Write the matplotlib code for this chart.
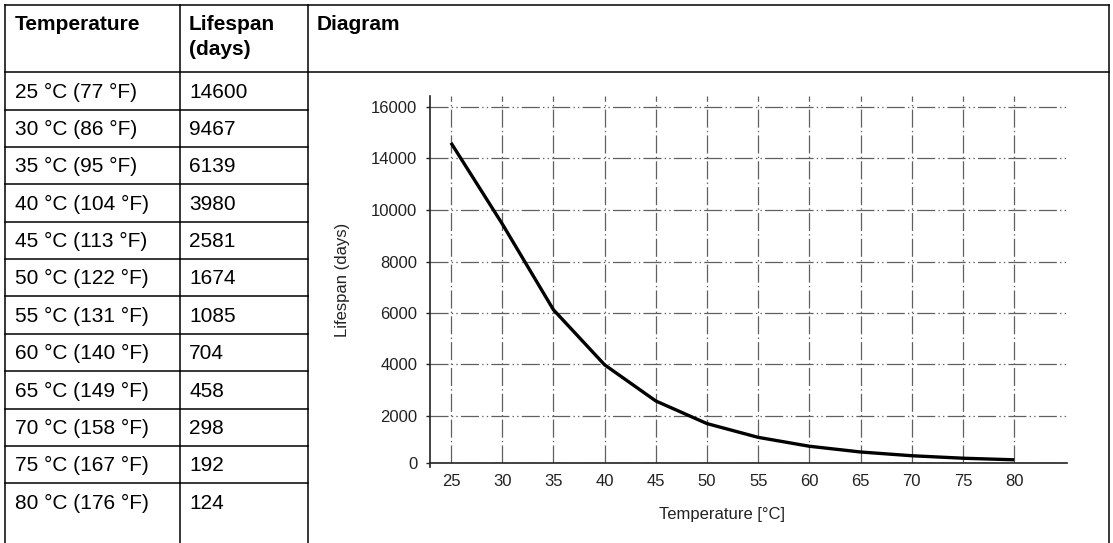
import matplotlib
matplotlib.use("Agg")
import matplotlib.pyplot as plt
import numpy as np

plt.rcParams['font.family'] = ['Liberation Sans', 'DejaVu Sans']
plt.rcParams['lines.scale_dashes'] = False

# table / curve data
temps_c = [25, 30, 35, 40, 45, 50, 55, 60, 65, 70, 75, 80]
temps_f = [77, 86, 95, 104, 113, 122, 131, 140, 149, 158, 167, 176]
lifespan = [14600, 9467, 6139, 3980, 2581, 1674, 1085, 704, 458, 298, 192, 124]

y_ticks = [0, 2000, 4000, 6000, 8000, 10000, 14000, 16000]
x_ticks = [25, 30, 35, 40, 45, 50, 55, 60, 65, 70, 75, 80]
headers = [["Temperature"], ["Lifespan", "(days)"], ["Diagram"]]

# the source diagram has an uneven value axis: breakpoints of that scale
scale_vals = [-2000, 0, 2000, 4000, 6000, 8000, 10000, 14000, 16000, 18000]
scale_pos = [-46.7, 0, 46.7, 98.4, 149.4, 201.0, 252.7, 304.4, 356.0, 407.6]


def fwd(v):
    return np.interp(v, scale_vals, scale_pos)


def inv(p):
    return np.interp(p, scale_pos, scale_vals)


W, H = 1113, 543
fig = plt.figure(figsize=(W / 100, H / 100), dpi=100)

# table drawn in pixel coordinates
tab = fig.add_axes([0, 0, 1, 1])
tab.set_xlim(0, W)
tab.set_ylim(H, 0)
tab.axis('off')

x_left, x_c1, x_c2, x_right = 5, 180, 308, 1108.5
y_top, y_head = 5.3, 72.3
row_h = 37.36
lw_tab = 1.1

tab.plot([x_left, x_right], [y_top, y_top], color='black', lw=lw_tab)
tab.plot([x_left, x_right], [y_head, y_head], color='black', lw=lw_tab)
for x in [x_left, x_c1, x_c2, x_right]:
    tab.plot([x, x], [y_top, H + 5], color='black', lw=lw_tab)
for k in range(1, len(temps_c)):
    y = y_head + row_h * k
    tab.plot([x_left, x_c2], [y, y], color='black', lw=lw_tab)

fs = 15
for x, lines in zip([15, 189, 317], headers):
    for j, h in enumerate(lines):
        tab.text(x, 30 + 25 * j, h, fontsize=fs, fontweight='bold',
                 va='baseline', ha='left', color='black')
for i, (c, f, d) in enumerate(zip(temps_c, temps_f, lifespan)):
    yb = y_head + row_h * i + 25.4
    tab.text(15, yb, f"{c} °C ({f} °F)", fontsize=fs, va='baseline', color='black')
    tab.text(189, yb, str(d), fontsize=fs, va='baseline', color='black')

# diagram
ax_l, ax_r, ax_t, ax_b = 430, 1066.7, 96, 462.7
ax = fig.add_axes([ax_l / W, 1 - ax_b / H, (ax_r - ax_l) / W, (ax_b - ax_t) / H])
ax.set_facecolor('none')
ax.set_yscale('function', functions=(fwd, inv))

ax.plot(temps_c, lifespan, color='black', lw=2.4, solid_joinstyle='round',
        solid_capstyle='butt', zorder=3)

ax.set_xlim(22.95, 85.12)
ax.set_ylim(0, 16415)
ax.set_xticks(x_ticks)
ax.set_yticks(y_ticks)
ax.set_yticklabels([str(v) for v in y_ticks])

ax.grid(axis='x', color='#606060', lw=0.9, linestyle=(0, (13, 2.3, 1.0, 2.3)))
ax.grid(axis='y', color='#606060', lw=0.9,
        linestyle=(0, (13, 2.3, 1.0, 2.3, 1.0, 2.3)))
ax.set_axisbelow(True)

for s in ['top', 'right']:
    ax.spines[s].set_visible(False)
for s in ['left', 'bottom']:
    ax.spines[s].set_color('#222222')
    ax.spines[s].set_linewidth(1.2)
ax.spines['left'].set_bounds(-170, 16415)

ax.tick_params(axis='x', length=0, pad=8, labelsize=12, labelcolor='#222222')
ax.tick_params(axis='y', length=3.1, width=1.0, direction='out', pad=6,
               labelsize=12, labelcolor='#222222', color='#222222')

fig.text(721.7 / W, 1 - 515 / H, "Temperature [°C]", fontsize=12,
         ha='center', va='center', color='#222222')
fig.text(343 / W, 1 - 279.4 / H, "Lifespan (days)", fontsize=12, rotation=90,
         ha='center', va='center', color='#222222')

fig.savefig("out.png", dpi=100)
